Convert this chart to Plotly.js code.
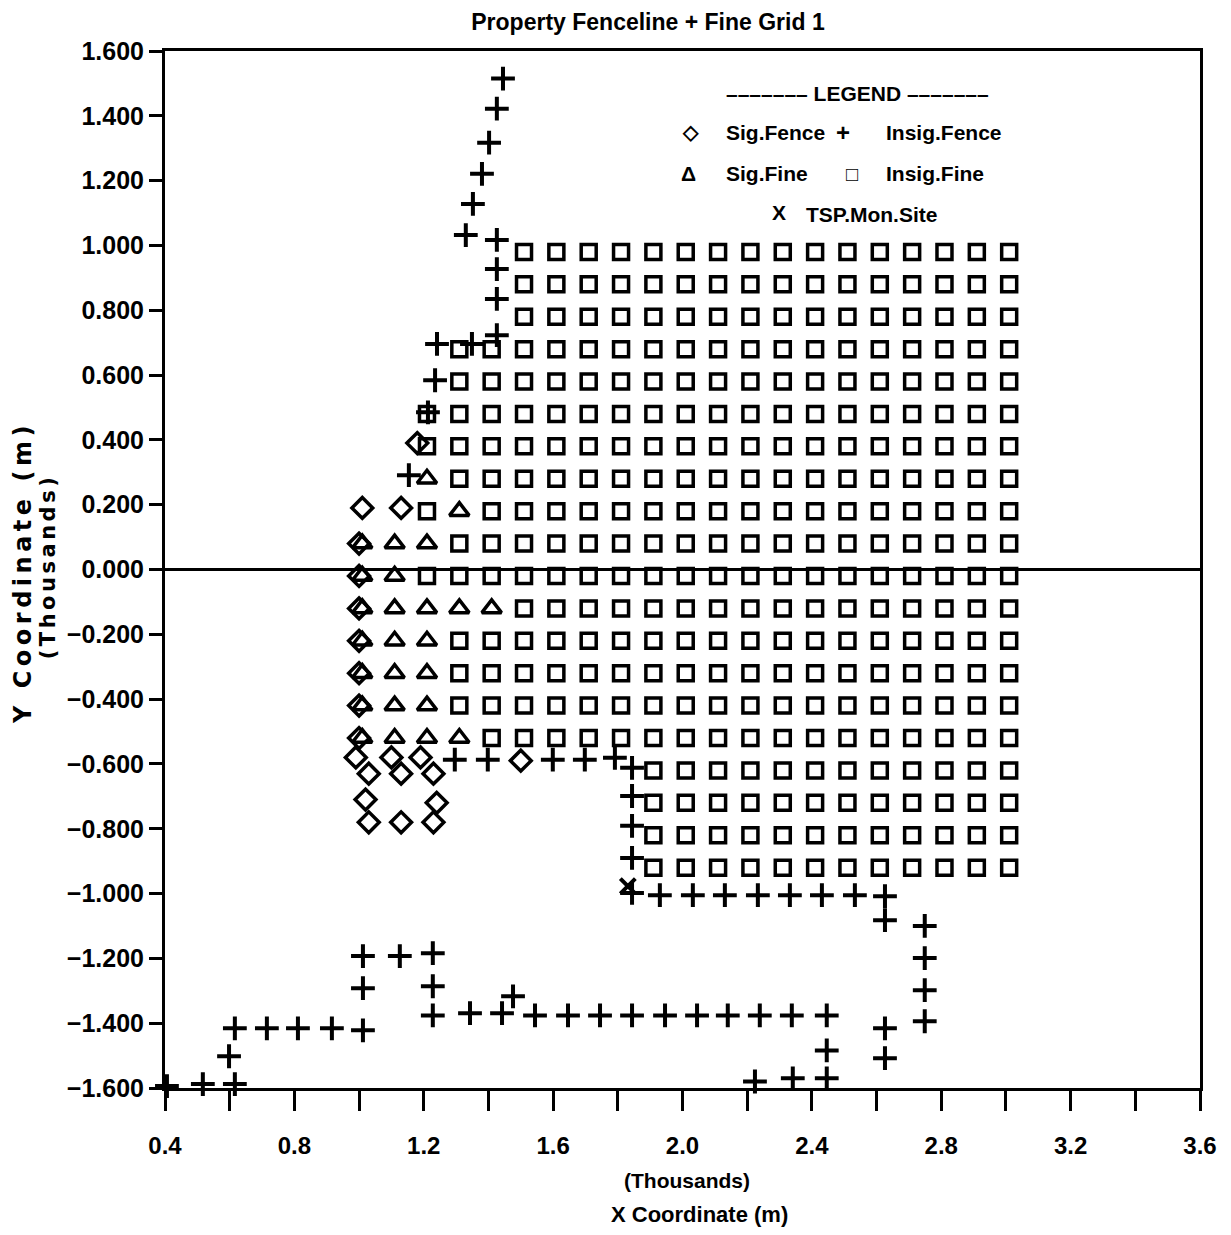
<!DOCTYPE html>
<html>
<head>
<meta charset="utf-8">
<script src="https://cdn.plot.ly/plotly-3.0.1.min.js"></script>
<style>
  html, body { margin: 0; padding: 0; background: #fff; }
  #chart { width: 1231px; height: 1235px; }
</style>
</head>
<body>
<div id="chart"></div>
<script>
// ---------------- DATA (thousands of metres) ----------------
var chartTitle = "Property Fenceline + Fine Grid 1";
var xTickLabels = ["0.4", "0.8", "1.2", "1.6", "2.0", "2.4", "2.8", "3.2", "3.6"];

// Fine-grid receptor columns / rows
var gridX = [1.01, 1.11, 1.21, 1.31, 1.41, 1.51, 1.61, 1.71, 1.81, 1.91, 2.01,
             2.11, 2.21, 2.31, 2.41, 2.51, 2.61, 2.71, 2.81, 2.91, 3.01];
var gridY = [0.98, 0.88, 0.78, 0.68, 0.58, 0.48, 0.38, 0.28, 0.18, 0.08, -0.02,
             -0.12, -0.22, -0.32, -0.42, -0.52, -0.62, -0.72, -0.82, -0.92];
// Per row: T = Sig.Fine (triangle), S = Insig.Fine (square), . = none
var gridRows = [
  ".....SSSSSSSSSSSSSSSS",
  ".....SSSSSSSSSSSSSSSS",
  ".....SSSSSSSSSSSSSSSS",
  "...SSSSSSSSSSSSSSSSSS",
  "...SSSSSSSSSSSSSSSSSS",
  "..SSSSSSSSSSSSSSSSSSS",
  "..SSSSSSSSSSSSSSSSSSS",
  "..TSSSSSSSSSSSSSSSSSS",
  "..STSSSSSSSSSSSSSSSSS",
  "TTTSSSSSSSSSSSSSSSSSS",
  "TTSSSSSSSSSSSSSSSSSSS",
  "TTTTTSSSSSSSSSSSSSSSS",
  "TTTSSSSSSSSSSSSSSSSSS",
  "TTTSSSSSSSSSSSSSSSSSS",
  "TTTSSSSSSSSSSSSSSSSSS",
  "TTTTSSSSSSSSSSSSSSSSS",
  ".........SSSSSSSSSSSS",
  ".........SSSSSSSSSSSS",
  ".........SSSSSSSSSSSS",
  ".........SSSSSSSSSSSS"
];

// Significant fenceline receptors (diamonds)
var sigFenceX = [1.18, 1.01, 1.13, 1.00, 1.00, 1.00, 1.00, 1.00, 1.00, 1.00,
                 0.99, 1.03, 1.10, 1.13, 1.19, 1.23, 1.02, 1.03, 1.13, 1.24, 1.23, 1.50];
var sigFenceY = [0.39, 0.19, 0.19, 0.08, -0.02, -0.12, -0.22, -0.32, -0.42, -0.52,
                 -0.58, -0.63, -0.58, -0.63, -0.58, -0.63, -0.71, -0.78, -0.78, -0.72, -0.78, -0.59];

// Insignificant fenceline receptors (crosses)
var insigFenceX = [1.445, 1.426, 1.402, 1.380, 1.352, 1.330, 1.426, 1.426, 1.426, 1.426,
                   1.241, 1.349, 1.235, 1.213, 1.154,
                   1.296, 1.398, 1.599, 1.698, 1.791, 1.844,
                   1.844, 1.844, 1.844, 1.844,
                   1.930, 2.032, 2.131, 2.233, 2.332, 2.431, 2.533, 2.626, 2.626,
                   2.749, 2.749, 2.749, 2.749,
                   1.442, 1.476, 1.544, 1.646, 1.745, 1.844, 1.946, 2.045, 2.140, 2.239, 2.338, 2.446,
                   2.446, 2.446, 2.224, 2.341,
                   2.626, 2.626, 2.626,
                   0.406, 0.517, 0.616, 0.598, 0.616, 0.715, 0.811, 0.916, 1.012, 1.012, 1.012,
                   1.126, 1.228, 1.228, 1.228, 1.343];
var insigFenceY = [1.515, 1.422, 1.317, 1.221, 1.128, 1.032, 1.017, 0.927, 0.835, 0.723,
                   0.696, 0.696, 0.584, 0.485, 0.291,
                   -0.587, -0.587, -0.587, -0.587, -0.581, -0.612,
                   -0.699, -0.791, -0.890, -0.998,
                   -1.005, -1.005, -1.005, -1.005, -1.005, -1.005, -1.005, -1.008, -1.082,
                   -1.100, -1.199, -1.298, -1.394,
                   -1.369, -1.317, -1.376, -1.376, -1.376, -1.376, -1.376, -1.376, -1.376, -1.376, -1.376, -1.376,
                   -1.484, -1.570, -1.580, -1.570,
                   -1.416, -1.508, -1.601,
                   -1.594, -1.588, -1.588, -1.502, -1.416, -1.416, -1.416, -1.416, -1.422, -1.292, -1.193,
                   -1.193, -1.184, -1.286, -1.376, -1.369];

// TSP monitoring site
var tspX = [1.831];
var tspY = [-0.977];

// ---------------- BUILD ----------------
var sigFineX = [], sigFineY = [], insigFineX = [], insigFineY = [];
gridRows.forEach(function (row, r) {
  for (var c = 0; c < row.length; c++) {
    if (row[c] === "T") { sigFineX.push(gridX[c]); sigFineY.push(gridY[r]); }
    else if (row[c] === "S") { insigFineX.push(gridX[c]); insigFineY.push(gridY[r]); }
  }
});

var NARROW = "'Liberation Sans', Arial, sans-serif";
var LW = 3.5;

var traces = [
  { name: "Insig.Fine", x: insigFineX, y: insigFineY, type: "scatter", mode: "markers", cliponaxis: false,
    marker: { symbol: "square-open", size: 15, color: "black", line: { width: LW, color: "black" } } },
  { name: "Sig.Fine", x: sigFineX, y: sigFineY, type: "scatter", mode: "markers", cliponaxis: false,
    marker: { symbol: "triangle-up-open", size: 17, color: "black", line: { width: LW, color: "black" } } },
  { name: "Sig.Fence", x: sigFenceX, y: sigFenceY, type: "scatter", mode: "markers", cliponaxis: false,
    marker: { symbol: "diamond-open", size: 16, color: "black", line: { width: LW, color: "black" } } },
  { name: "Insig.Fence", x: insigFenceX, y: insigFenceY, type: "scatter", mode: "markers", cliponaxis: false,
    marker: { symbol: "cross-thin-open", size: 17, color: "black", line: { width: 4, color: "black" } } },
  { name: "TSP.Mon.Site", x: tspX, y: tspY, type: "scatter", mode: "markers", cliponaxis: false,
    marker: { symbol: "x-thin-open", size: 15, color: "black", line: { width: 4, color: "black" } } }
];

function legendText(t, x, y, anchor, size) {
  return { text: t, xref: "paper", yref: "paper", x: x, y: y, xanchor: anchor || "left", yanchor: "middle",
           showarrow: false, font: { family: NARROW, size: size || 21, color: "black", weight: "bold" } };
}
// paper coords helpers: plot area 165..1200 px (x), 51..1088 px (y)
function px(p) { return (p - 165) / 1035; }
function py(p) { return (1088 - p) / 1037; }

var DASHES = "\u2013\u2013\u2013\u2013\u2013\u2013\u2013";
var annotations = [
  legendText(DASHES + " LEGEND " + DASHES, px(857), py(93), "center"),
  legendText("\u25C7", px(690), py(132), "center", 20),
  legendText("Sig.Fence", px(724), py(133)),
  legendText("+", px(843), py(132), "center", 24),
  legendText("Insig.Fence", px(884), py(133)),
  legendText("\u0394", px(688), py(173), "center"),
  legendText("Sig.Fine", px(724), py(174)),
  legendText("\u25A1", px(852), py(174), "center", 20),
  legendText("Insig.Fine", px(884), py(174)),
  legendText("X", px(779), py(213), "center"),
  legendText("TSP.Mon.Site", px(804), py(214)),
  { text: "Y Coordinate (m)", xref: "paper", yref: "paper", x: px(23), y: py(573),
    xanchor: "center", yanchor: "middle", textangle: -90, showarrow: false,
    font: { family: "'DejaVu Sans', sans-serif", size: 24, color: "black", weight: "bold" } },
  { text: "(Thousands)", xref: "paper", yref: "paper", x: px(48), y: py(567),
    xanchor: "center", yanchor: "middle", textangle: -90, showarrow: false,
    font: { family: "'DejaVu Sans', sans-serif", size: 21, color: "black", weight: "bold" } },
  { text: "(Thousands)", xref: "paper", yref: "paper", x: px(687), y: py(1180),
    xanchor: "center", yanchor: "middle", showarrow: false,
    font: { family: NARROW, size: 21, color: "black", weight: "bold" } },
  { text: "X Coordinate (m)", xref: "paper", yref: "paper", x: px(699), y: py(1214),
    xanchor: "center", yanchor: "middle", showarrow: false,
    font: { family: NARROW, size: 22, color: "black", weight: "bold" } }
];

var layout = {
  width: 1231, height: 1235,
  margin: { l: 165, r: 31, t: 51, b: 147, pad: 0 },
  paper_bgcolor: "white", plot_bgcolor: "white",
  showlegend: false,
  title: { text: chartTitle, x: 648 / 1231, xref: "container", xanchor: "center",
           y: 1 - 22 / 1235, yref: "container", yanchor: "middle",
           font: { family: NARROW, size: 23, color: "black", weight: "bold" } },
  font: { family: NARROW, color: "black" },
  xaxis: {
    range: [0.4, 3.6], tickmode: "array",
    tickvals: xTickLabels.map(Number), ticktext: xTickLabels,
    ticks: "outside", ticklen: 20, tickwidth: 3, tickcolor: "black",
    minor: { tickmode: "linear", tick0: 0.4, dtick: 0.2, ticks: "outside", ticklen: 20, tickwidth: 3, tickcolor: "black", showgrid: false },
    showline: true, linewidth: 3, linecolor: "black", mirror: true,
    showgrid: false, zeroline: false,
    tickfont: { family: NARROW, size: 24, color: "black", weight: "bold" },
    ticklabelstandoff: 14
  },
  yaxis: {
    range: [-1.6, 1.6], dtick: 0.2, tick0: 0, tickformat: ".3f",
    ticks: "outside", ticklen: 13, tickwidth: 3, tickcolor: "black",
    showline: true, linewidth: 3, linecolor: "black", mirror: true,
    showgrid: false, zeroline: true, zerolinewidth: 3, zerolinecolor: "black",
    tickfont: { family: NARROW, size: 25, color: "black", weight: "bold" },
    ticklabelstandoff: 0
  },
  annotations: annotations
};

Plotly.newPlot("chart", traces, layout, { displayModeBar: false, staticPlot: true }).then(function (gd) {
  // the reference's rotated y-axis title is letter-spaced
  var spacing = { "11": "4.5px", "12": "3.5px" };
  Object.keys(spacing).forEach(function (idx) {
    var g = gd.querySelector('.annotation[data-index="' + idx + '"]');
    if (g) g.querySelectorAll("text").forEach(function (t) { t.style.letterSpacing = spacing[idx]; });
  });
});
</script>
</body>
</html>
